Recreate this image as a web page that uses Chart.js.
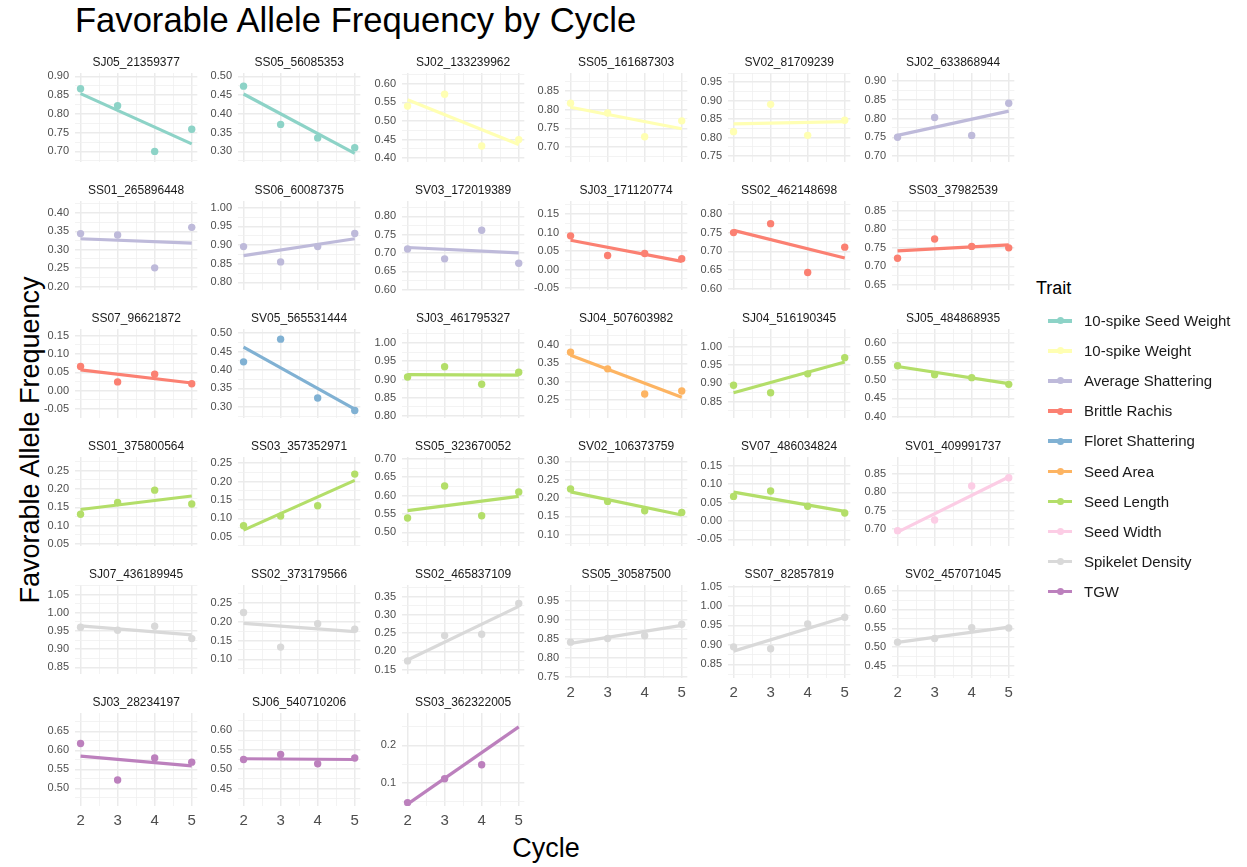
<!DOCTYPE html>
<html lang="en">
  <head>
    <meta charset="UTF-8" />
    <title>Favorable Allele Frequency by Cycle</title>
    <script src="https://cdn.jsdelivr.net/npm/chart.js"></script>
    <style>
      body { margin: 0; background: #fff; font-family: "Liberation Sans", Arial, sans-serif; }
      #page { position: relative; width: 1247px; height: 867px; overflow: hidden; background: #fff; }
      #page canvas { position: absolute; }
      .main-title { position: absolute; left: 75px; top: 0; font-size: 34.6px; line-height: 40px; color: #000; white-space: nowrap; }
      .y-title { position: absolute; left: 30px; top: 440px; font-size: 27px; color: #000; white-space: nowrap;
                 transform: translate(-50%, -50%) rotate(-90deg); }
      .x-title { position: absolute; left: 546px; top: 848px; font-size: 27px; color: #000; white-space: nowrap;
                 transform: translate(-50%, -50%); }
      .legend-title { position: absolute; left: 1036px; top: 277px; font-size: 18px; line-height: 22px; color: #000; }
      .legend-item { position: absolute; left: 1048px; height: 30px; line-height: 30px; font-size: 15px; color: #1a1a1a; white-space: nowrap; }
      .legend-item .key { position: absolute; left: 0; top: 13px; width: 24px; height: 3.5px; }
      .legend-item .dot { position: absolute; left: 8.5px; top: -1.75px; width: 7px; height: 7px; border-radius: 50%; }
      .legend-item .lab { position: absolute; left: 36px; top: 0; }
    </style>
  </head>
  <body>
    <div id="page">
      <div class="main-title">Favorable Allele Frequency by Cycle</div>
      <div class="y-title">Favorable Allele Frequency</div>
      <div class="x-title">Cycle</div>
      <div class="legend-title">Trait</div>
    </div>

    <script>
      // -------- data -------- //
      const cycles = [2, 3, 4, 5];

      const traitNames = [
        "10-spike Seed Weight", "10-spike Weight", "Average Shattering", "Brittle Rachis", "Floret Shattering",
        "Seed Area", "Seed Length", "Seed Width", "Spikelet Density", "TGW",
      ];
      const traitColors = [
        "#8DD3C7", "#FFFFB3", "#BEBADA", "#FB8072", "#80B1D3",
        "#FDB462", "#B3DE69", "#FCCDE5", "#D9D9D9", "#BC80BD",
      ];

      const markers = [
        "SJ05_21359377", "SS05_56085353", "SJ02_133239962", "SS05_161687303", "SV02_81709239", "SJ02_633868944",
        "SS01_265896448", "SS06_60087375", "SV03_172019389", "SJ03_171120774", "SS02_462148698", "SS03_37982539",
        "SS07_96621872", "SV05_565531444", "SJ03_461795327", "SJ04_507603982", "SJ04_516190345", "SJ05_484868935",
        "SS01_375800564", "SS03_357352971", "SS05_323670052", "SV02_106373759", "SV07_486034824", "SV01_409991737",
        "SJ07_436189945", "SS02_373179566", "SS02_465837109", "SS05_30587500", "SS07_82857819", "SV02_457071045",
        "SJ03_28234197", "SJ06_540710206", "SS03_362322005",
      ];
      // index into traitNames
      const markerTrait = [
        0, 0, 1, 1, 1, 2,
        2, 2, 2, 3, 3, 3,
        3, 4, 6, 5, 6, 6,
        6, 6, 6, 6, 6, 7,
        8, 8, 8, 8, 8, 8,
        9, 9, 9,
      ];

      // favorable allele frequency at cycles 2..5
      const frequency = [
        [0.867, 0.822, 0.700, 0.759], [0.474, 0.372, 0.336, 0.310], [0.540, 0.572, 0.433, 0.450],
        [0.817, 0.791, 0.728, 0.770], [0.816, 0.890, 0.806, 0.847], [0.750, 0.803, 0.755, 0.841],
        [0.344, 0.340, 0.251, 0.361], [0.896, 0.855, 0.896, 0.931], [0.711, 0.684, 0.762, 0.672],
        [0.091, 0.038, 0.0435, 0.029], [0.750, 0.774, 0.643, 0.711], [0.722, 0.774, 0.754, 0.750],
        [0.066, 0.024, 0.045, 0.019], [0.422, 0.4835, 0.324, 0.290], [0.907, 0.935, 0.887, 0.920],
        [0.380, 0.335, 0.267, 0.275], [0.895, 0.8745, 0.926, 0.970], [0.538, 0.514, 0.506, 0.488],
        [0.131, 0.163, 0.197, 0.159], [0.080, 0.106, 0.134, 0.220], [0.539, 0.626, 0.545, 0.610],
        [0.225, 0.191, 0.1655, 0.161], [0.0665, 0.081, 0.0396, 0.0213], [0.695, 0.724, 0.8175, 0.840],
        [0.960, 0.952, 0.963, 0.929], [0.2246, 0.1325, 0.1947, 0.180], [0.1737, 0.243, 0.2465, 0.331],
        [0.842, 0.8515, 0.859, 0.889], [0.895, 0.890, 0.954, 0.971], [0.513, 0.523, 0.552, 0.551],
        [0.618, 0.522, 0.580, 0.569], [0.525, 0.538, 0.514, 0.529], [0.048, 0.1115, 0.1487, null],
      ];

      // fitted trend line, read at cycle 2 and cycle 5
      const fitStart = [
        0.854, 0.453, 0.557, 0.806, 0.837, 0.755,
        0.330, 0.872, 0.715, 0.079, 0.756, 0.742,
        0.057, 0.462, 0.9135, 0.372, 0.8745, 0.536,
        0.144, 0.068, 0.559, 0.217, 0.078, 0.691,
        0.964, 0.1956, 0.176, 0.839, 0.884, 0.5125,
        0.585, 0.527, 0.044,
      ];
      const fitEnd = [
        0.720, 0.295, 0.437, 0.749, 0.843, 0.820,
        0.318, 0.917, 0.700, 0.022, 0.682, 0.758,
        0.021, 0.294, 0.912, 0.258, 0.958, 0.490,
        0.181, 0.203, 0.598, 0.154, 0.0257, 0.842,
        0.939, 0.1737, 0.323, 0.886, 0.971, 0.553,
        0.559, 0.525, 0.249,
      ];

      // y axis limits and break step of each facet
      const yLow = [
        0.671, 0.271, 0.389, 0.660, 0.733, 0.683,
        0.190, 0.779, 0.598, -0.056, 0.5955, 0.635,
        -0.075, 0.269, 0.794, 0.201, 0.805, 0.3965,
        0.043, 0.024, 0.462, 0.0686, -0.069, 0.652,
        0.831, 0.060, 0.137, 0.748, 0.815, 0.417,
        0.4535, 0.405, 0.039,
      ];
      const yHigh = [
        0.909, 0.509, 0.629, 0.897, 0.975, 0.922,
        0.4325, 1.018, 0.842, 0.185, 0.8346, 0.877,
        0.168, 0.511, 1.038, 0.443, 1.048, 0.637,
        0.288, 0.2665, 0.705, 0.312, 0.1735, 0.897,
        1.076, 0.298, 0.3816, 0.992, 1.054, 0.666,
        0.6985, 0.645, 0.286,
      ];
      const yBreak = markers.map((m, i) => (i === 32 ? 0.1 : 0.05));

      // -------- facet layout -------- //
      const NCOL = 6;
      const PLOT_W = 124;
      const PLOT_H = 93;
      const AXIS_W = 40;
      const STRIP_H = 20;
      const FONT = '"Liberation Sans", Arial, sans-serif';
      const colLeft = (c) => Math.round(75 + c * 163.3);
      const rowTop = (r) => Math.round(73 + r * 128);

      Chart.defaults.font.family = FONT;

      const isMajor = (v, step) => Math.abs(v / step - Math.round(v / step)) < 1e-6;
      const gridWidth = (step) => (ctx) => (ctx.tick && isMajor(ctx.tick.value, step) ? 1.5 : 0.8);
      const gridColor = (step) => (ctx) => (ctx.tick && isMajor(ctx.tick.value, step) ? "#EBEBEB" : "#F0F0F0");

      const page = document.getElementById("page");

      markers.forEach((name, i) => {
        const r = Math.floor(i / NCOL);
        const c = i % NCOL;
        const bottom = i + NCOL >= markers.length;
        const xh = bottom ? 30 : 0;
        const color = traitColors[markerTrait[i]];
        const step = yBreak[i];
        const digits = step < 0.1 ? 2 : 1;

        const cv = document.createElement("canvas");
        cv.width = AXIS_W + PLOT_W + 2;
        cv.height = STRIP_H + PLOT_H + xh;
        cv.style.left = colLeft(c) - AXIS_W + "px";
        cv.style.top = rowTop(r) - STRIP_H + "px";
        page.appendChild(cv);

        const points = cycles
          .map((x, k) => ({ x, y: frequency[i][k] }))
          .filter((p) => p.y !== null);

        new Chart(cv, {
          type: "scatter",
          data: {
            datasets: [
              {
                data: [{ x: cycles[0], y: fitStart[i] }, { x: cycles[cycles.length - 1], y: fitEnd[i] }],
                showLine: true,
                borderColor: color,
                borderWidth: 3.2,
                pointRadius: 0,
                pointHoverRadius: 0,
              },
              {
                data: points,
                backgroundColor: color,
                borderWidth: 0,
                pointRadius: 3.7,
                pointHoverRadius: 3.7,
              },
            ],
          },
          options: {
            responsive: false,
            animation: false,
            events: [],
            layout: { padding: 0 },
            plugins: {
              legend: { display: false },
              tooltip: { enabled: false },
              title: {
                display: true,
                text: name,
                fullSize: false,
                color: "#1A1A1A",
                font: { size: 12, weight: "normal", lineHeight: 1.25 },
                padding: { top: 2, bottom: 3 },
              },
            },
            scales: {
              x: {
                type: "linear",
                min: 1.85,
                max: 5.15,
                border: { display: false },
                grid: { drawTicks: false, color: gridColor(1), lineWidth: gridWidth(1) },
                ticks: {
                  display: bottom,
                  stepSize: 0.5,
                  includeBounds: false,
                  autoSkip: false,
                  maxRotation: 0,
                  padding: 6,
                  color: "#4D4D4D",
                  font: { size: 15 },
                  callback: (v) => (Number.isInteger(v) ? String(v) : ""),
                },
                afterFit: (s) => {
                  s.height = xh;
                  s.paddingLeft = 0;
                  s.paddingRight = 0;
                },
              },
              y: {
                type: "linear",
                min: yLow[i],
                max: yHigh[i],
                border: { display: false },
                grid: { drawTicks: false, color: gridColor(step), lineWidth: gridWidth(step) },
                ticks: {
                  stepSize: step / 2,
                  includeBounds: false,
                  autoSkip: false,
                  padding: 6,
                  color: "#4D4D4D",
                  font: { size: 11 },
                  callback: (v) => {
                    if (!isMajor(v, step)) return "";
                    const n = Math.abs(v) < 1e-9 ? 0 : v;
                    return n.toFixed(digits);
                  },
                },
                afterFit: (s) => {
                  s.width = AXIS_W;
                  s.paddingTop = 0;
                  s.paddingBottom = 0;
                },
              },
            },
          },
        });
      });

      // -------- legend -------- //
      traitNames.forEach((t, k) => {
        const item = document.createElement("div");
        item.className = "legend-item";
        item.style.top = 306 + k * 30.1 + "px";
        item.innerHTML =
          `<span class="key" style="background:${traitColors[k]}"><span class="dot" style="background:${traitColors[k]}"></span></span>` +
          `<span class="lab">${t}</span>`;
        page.appendChild(item);
      });
    </script>
  </body>
</html>
